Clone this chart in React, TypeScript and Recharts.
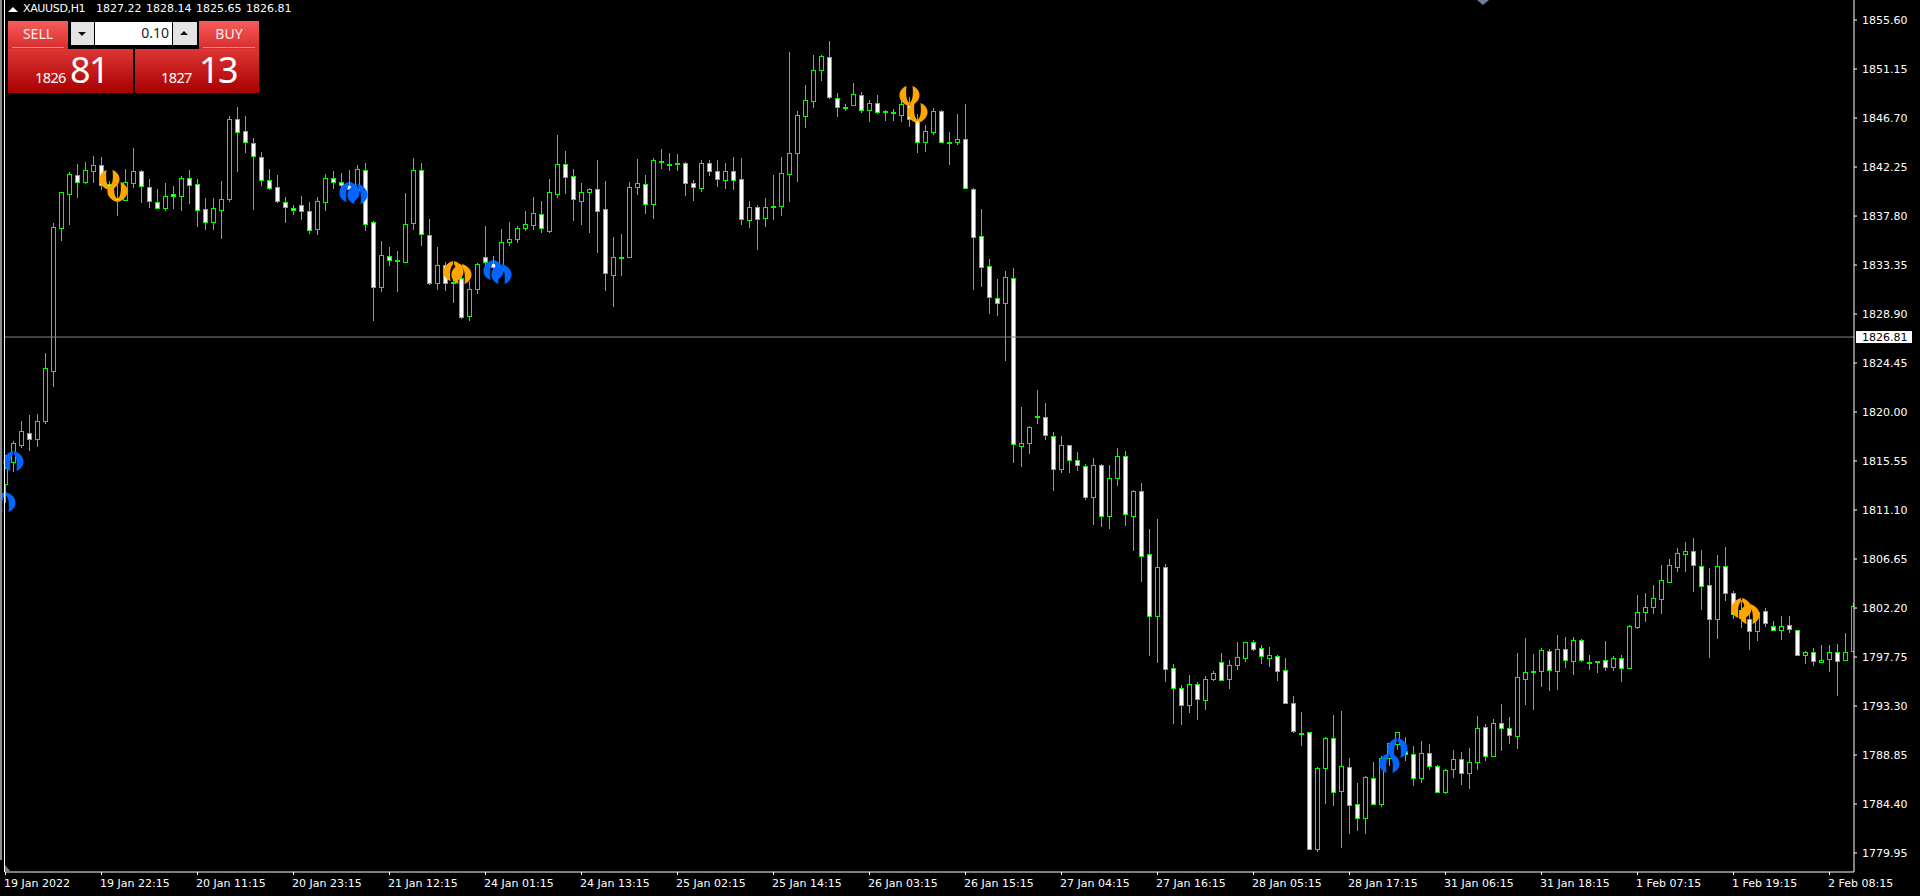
import { Bar, ComposedChart, ReferenceDot, ReferenceLine, XAxis, YAxis } from "recharts";

const opens = [
  1813.46, 1815.46, 1817.0, 1818.09, 1817.55, 1819.18, 1823.72, 1836.72, 1839.81, 1841.53,
  1840.89, 1841.89, 1842.44, 1840.71, 1839.44, 1839.26, 1840.8, 1841.89, 1840.44, 1839.08,
  1838.53, 1839.76, 1839.62, 1841.26, 1840.71, 1838.44, 1837.26, 1838.35, 1839.35, 1846.61,
  1845.52, 1844.43, 1843.16, 1841.07, 1840.44, 1839.08, 1838.53, 1838.8, 1838.26, 1836.62,
  1839.08, 1841.26, 1840.89, 1840.62, 1840.17, 1841.99, 1837.26, 1831.36, 1834.17, 1833.72,
  1833.63, 1837.17, 1841.98, 1836.08, 1831.72, 1833.35, 1831.81, 1832.17, 1828.72, 1831.17,
  1834.08, 1833.54, 1832.9, 1835.44, 1835.71, 1836.72, 1836.99, 1837.99, 1836.44, 1839.8,
  1842.53, 1841.44, 1839.17, 1839.98, 1840.26, 1838.44, 1832.45, 1834.08, 1834.08, 1840.44,
  1840.71, 1838.89, 1842.8, 1842.53, 1842.62, 1842.62, 1840.8, 1840.35, 1842.62, 1841.89,
  1841.07, 1841.89, 1841.17, 1837.44, 1838.62, 1837.62, 1838.62, 1838.71, 1841.62, 1843.53,
  1846.89, 1848.25, 1851.06, 1852.24, 1848.52, 1847.7, 1847.88, 1848.79, 1847.43, 1848.06,
  1847.34, 1847.25, 1846.98, 1847.88, 1846.52, 1844.52, 1845.43, 1847.34, 1844.52, 1844.52,
  1844.8, 1840.26, 1835.99, 1833.26, 1830.35, 1829.9, 1832.17, 1816.91, 1817.19, 1819.64,
  1819.55, 1817.82, 1814.82, 1817.0, 1815.64, 1815.1, 1812.28, 1815.19, 1810.55, 1814.01,
  1816.01, 1810.55, 1812.83, 1807.1, 1801.48, 1805.92, 1796.76, 1794.94, 1793.39, 1795.3,
  1793.85, 1795.75, 1797.3, 1795.75, 1797.03, 1797.66, 1799.11, 1798.57, 1797.66, 1797.85,
  1796.57, 1793.58, 1790.86, 1790.95, 1780.31, 1787.67, 1790.4, 1785.58, 1787.76, 1784.4,
  1783.13, 1786.76, 1784.4, 1788.58, 1789.85, 1789.21, 1788.94, 1786.76, 1789.03, 1787.85,
  1785.49, 1787.58, 1788.49, 1787.21, 1788.22, 1791.4, 1788.76, 1791.76, 1791.31, 1790.58,
  1795.75, 1796.39, 1796.48, 1798.3, 1796.48, 1798.48, 1797.39, 1799.3, 1797.3, 1797.3,
  1797.48, 1796.85, 1797.66, 1796.75, 1800.48, 1801.84, 1802.29, 1803.02, 1804.57, 1805.93,
  1807.11, 1807.38, 1806.02, 1804.29, 1801.2, 1806.02, 1803.56, 1801.29, 1801.2, 1800.11,
  1801.93, 1800.57, 1800.2, 1800.66, 1800.2, 1797.94, 1798.21, 1797.3, 1797.57, 1798.21,
  1797.48, 1798.3,
];

const highs = [
  1816.1, 1817.37, 1819.18, 1819.73, 1819.82, 1825.36, 1837.17, 1839.98, 1841.8, 1842.53,
  1842.71, 1843.25, 1843.16, 1840.98, 1840.62, 1842.08, 1843.98, 1841.98, 1841.17, 1840.26,
  1840.8, 1840.53, 1841.44, 1841.98, 1841.17, 1839.44, 1839.44, 1840.98, 1846.89, 1847.7,
  1846.89, 1844.89, 1843.62, 1842.08, 1841.53, 1839.53, 1838.8, 1839.62, 1839.08, 1839.53,
  1841.62, 1841.89, 1841.71, 1841.98, 1842.44, 1842.62, 1837.35, 1835.54, 1834.99, 1834.63,
  1839.89, 1843.07, 1842.62, 1837.53, 1834.99, 1833.63, 1832.9, 1833.35, 1831.9, 1833.54,
  1836.9, 1834.17, 1836.62, 1837.26, 1836.9, 1838.26, 1839.53, 1839.17, 1841.17, 1845.16,
  1843.71, 1842.07, 1840.8, 1840.35, 1842.89, 1840.98, 1835.9, 1836.17, 1840.89, 1842.98,
  1841.53, 1843.07, 1843.89, 1843.53, 1843.44, 1842.71, 1841.07, 1842.89, 1842.89, 1842.89,
  1842.62, 1843.16, 1843.07, 1839.17, 1838.8, 1839.44, 1841.53, 1843.16, 1852.7, 1847.34,
  1849.7, 1852.43, 1852.43, 1853.7, 1848.97, 1847.98, 1849.88, 1849.06, 1848.34, 1848.79,
  1847.43, 1847.52, 1848.34, 1848.61, 1847.07, 1846.07, 1847.61, 1847.43, 1845.43, 1847.07,
  1847.97, 1840.35, 1838.44, 1833.9, 1832.08, 1832.8, 1833.08, 1820.45, 1818.73, 1822.0,
  1820.82, 1818.18, 1817.82, 1817.0, 1816.37, 1815.28, 1815.82, 1815.28, 1815.19, 1816.73,
  1816.46, 1812.92, 1813.55, 1809.38, 1810.29, 1806.2, 1797.12, 1795.21, 1796.12, 1795.48,
  1796.03, 1796.48, 1798.12, 1797.48, 1799.11, 1799.11, 1799.3, 1798.84, 1798.66, 1797.94,
  1797.66, 1794.21, 1792.76, 1790.95, 1787.76, 1790.49, 1792.49, 1792.85, 1788.58, 1786.31,
  1786.94, 1788.22, 1788.76, 1789.94, 1790.95, 1790.49, 1789.67, 1790.12, 1789.85, 1787.94,
  1787.58, 1789.3, 1789.12, 1789.49, 1792.39, 1791.67, 1792.12, 1793.49, 1792.3, 1798.12,
  1799.48, 1798.03, 1798.57, 1798.48, 1799.75, 1799.57, 1799.57, 1799.39, 1797.94, 1797.39,
  1799.21, 1797.85, 1797.94, 1800.66, 1803.39, 1803.57, 1804.29, 1806.11, 1806.66, 1807.65,
  1808.2, 1808.56, 1807.47, 1805.83, 1807.02, 1807.74, 1803.75, 1802.93, 1801.66, 1802.02,
  1802.2, 1801.02, 1801.48, 1801.48, 1800.2, 1798.3, 1798.57, 1798.84, 1798.84, 1798.93,
  1799.93, 1802.66,
];

const lows = [
  1811.74, 1814.55, 1816.73, 1816.46, 1816.82, 1818.91, 1822.27, 1835.54, 1836.99, 1839.44,
  1840.71, 1840.8, 1840.17, 1839.71, 1837.8, 1839.17, 1840.35, 1839.0, 1838.53, 1838.44,
  1838.26, 1838.44, 1838.26, 1838.89, 1836.81, 1836.53, 1836.53, 1835.71, 1839.08, 1841.8,
  1843.53, 1838.35, 1840.53, 1840.17, 1839.0, 1837.17, 1837.89, 1837.44, 1836.17, 1836.08,
  1838.26, 1840.26, 1839.71, 1839.26, 1839.71, 1836.44, 1828.26, 1830.9, 1833.26, 1830.9,
  1833.54, 1836.53, 1835.08, 1831.54, 1831.08, 1830.99, 1829.9, 1828.45, 1828.26, 1830.72,
  1832.9, 1832.0, 1832.45, 1835.08, 1835.35, 1836.44, 1836.53, 1836.26, 1836.26, 1839.44,
  1839.8, 1837.35, 1836.99, 1836.26, 1834.44, 1830.99, 1829.54, 1832.35, 1834.03, 1839.71,
  1837.99, 1837.53, 1842.07, 1841.89, 1841.89, 1839.62, 1839.17, 1839.98, 1841.44, 1840.44,
  1840.26, 1840.17, 1836.99, 1836.72, 1834.71, 1836.81, 1837.44, 1837.8, 1839.08, 1840.89,
  1845.8, 1847.61, 1850.06, 1848.43, 1846.79, 1847.34, 1847.79, 1847.16, 1846.34, 1847.07,
  1846.43, 1846.43, 1846.34, 1845.89, 1843.53, 1843.62, 1845.16, 1844.43, 1842.44, 1844.25,
  1840.26, 1831.08, 1831.36, 1828.9, 1828.72, 1824.63, 1815.37, 1815.01, 1816.19, 1818.91,
  1817.46, 1812.83, 1814.46, 1814.46, 1814.64, 1812.01, 1809.74, 1809.56, 1809.38, 1813.28,
  1809.65, 1807.38, 1804.56, 1797.85, 1797.21, 1795.5, 1791.67, 1791.58, 1792.67, 1792.03,
  1792.94, 1795.57, 1795.57, 1794.85, 1796.57, 1797.3, 1798.3, 1797.12, 1796.85, 1795.57,
  1793.58, 1790.86, 1789.67, 1780.22, 1780.04, 1784.4, 1784.22, 1780.4, 1781.67, 1781.94,
  1781.67, 1784.31, 1784.13, 1787.85, 1789.3, 1788.31, 1786.03, 1786.31, 1787.49, 1785.4,
  1785.31, 1786.76, 1786.12, 1785.76, 1787.49, 1788.31, 1788.76, 1789.21, 1789.85, 1789.39,
  1793.39, 1792.94, 1795.03, 1794.67, 1794.76, 1796.75, 1796.12, 1797.3, 1796.57, 1796.3,
  1796.48, 1796.48, 1795.48, 1796.75, 1800.3, 1800.93, 1801.66, 1801.66, 1804.48, 1805.47,
  1805.47, 1803.66, 1802.02, 1797.66, 1799.39, 1802.84, 1801.2, 1800.39, 1798.39, 1799.2,
  1800.48, 1800.2, 1799.3, 1799.93, 1797.85, 1797.12, 1796.93, 1797.21, 1796.39, 1794.21,
  1797.48, 1798.21,
];

const closes = [
  1814.92, 1817.19, 1818.27, 1817.55, 1819.18, 1824.0, 1836.81, 1839.98, 1841.62, 1840.89,
  1841.98, 1842.44, 1840.62, 1840.35, 1839.26, 1840.89, 1841.89, 1840.53, 1839.17, 1838.53,
  1839.62, 1839.62, 1841.26, 1840.62, 1838.35, 1837.26, 1838.53, 1839.35, 1846.61, 1845.43,
  1844.52, 1843.25, 1841.07, 1840.35, 1839.17, 1838.62, 1838.35, 1838.26, 1836.53, 1839.17,
  1841.26, 1840.89, 1840.62, 1840.26, 1842.08, 1837.08, 1831.36, 1834.26, 1833.81, 1833.81,
  1837.08, 1841.98, 1836.17, 1831.72, 1833.35, 1831.72, 1831.72, 1828.63, 1831.17, 1833.45,
  1833.63, 1833.17, 1835.44, 1835.71, 1836.72, 1837.08, 1838.08, 1836.72, 1839.98, 1842.53,
  1841.35, 1839.35, 1839.98, 1840.26, 1838.26, 1832.63, 1834.08, 1833.99, 1840.44, 1840.8,
  1838.89, 1842.89, 1842.71, 1842.44, 1842.53, 1840.8, 1840.44, 1842.62, 1841.89, 1841.17,
  1841.89, 1841.07, 1837.53, 1838.62, 1837.53, 1838.62, 1838.71, 1841.71, 1843.53, 1846.98,
  1848.34, 1851.06, 1852.33, 1848.61, 1847.7, 1847.61, 1848.88, 1847.43, 1848.06, 1847.25,
  1847.25, 1847.16, 1847.97, 1846.61, 1844.52, 1845.52, 1847.34, 1844.52, 1844.43, 1844.8,
  1840.35, 1835.9, 1833.17, 1830.44, 1829.9, 1832.26, 1817.09, 1817.19, 1818.64, 1819.55,
  1817.91, 1814.82, 1817.0, 1815.64, 1815.19, 1812.28, 1815.19, 1810.55, 1814.01, 1816.01,
  1810.74, 1812.83, 1806.92, 1801.48, 1805.92, 1796.68, 1794.94, 1793.39, 1795.3, 1793.94,
  1795.75, 1796.3, 1795.66, 1797.03, 1797.75, 1799.11, 1798.48, 1797.85, 1797.94, 1796.48,
  1793.58, 1791.04, 1790.77, 1780.31, 1787.67, 1790.4, 1785.49, 1787.85, 1784.31, 1783.13,
  1786.85, 1784.4, 1788.58, 1789.94, 1790.95, 1788.94, 1786.76, 1789.03, 1787.85, 1785.49,
  1787.49, 1788.49, 1787.21, 1788.22, 1791.31, 1788.76, 1791.76, 1791.31, 1790.67, 1795.93,
  1796.39, 1796.48, 1798.39, 1796.57, 1798.48, 1797.48, 1799.3, 1797.48, 1797.21, 1797.39,
  1796.85, 1797.66, 1796.75, 1800.57, 1801.84, 1802.29, 1803.11, 1804.75, 1806.11, 1807.2,
  1807.38, 1806.11, 1804.2, 1801.2, 1806.02, 1803.56, 1801.66, 1802.02, 1800.11, 1801.84,
  1800.84, 1800.2, 1800.57, 1800.3, 1797.94, 1798.21, 1797.39, 1797.48, 1798.21, 1797.39,
  1798.21, 1802.39,
];

const priceTicks = [
  1855.6, 1851.15, 1846.7, 1842.25, 1837.8, 1833.35, 1828.9, 1824.45, 1820.0, 1815.55, 1811.1,
  1806.65, 1802.2, 1797.75, 1793.3, 1788.85, 1784.4, 1779.95,
];

const timeTickIndexes = [0, 12, 24, 36, 48, 60, 72, 84, 96, 108, 120, 132, 144, 156, 168, 180, 192, 204, 216, 228];
const timeTickLabels = [
  "19 Jan 2022", "19 Jan 22:15", "20 Jan 11:15", "20 Jan 23:15", "21 Jan 12:15", "24 Jan 01:15", "24 Jan 13:15",
  "25 Jan 02:15", "25 Jan 14:15", "26 Jan 03:15", "26 Jan 15:15", "27 Jan 04:15", "27 Jan 16:15", "28 Jan 05:15",
  "28 Jan 17:15", "31 Jan 06:15", "31 Jan 18:15", "1 Feb 07:15", "1 Feb 19:15", "2 Feb 08:15",
];

const lastPrice = 1826.81;

// arrows left on the chart: [candle index, price]
const orangeCups = [[13, 1841.07], [14, 1839.98], [113, 1848.7], [114, 1847.16]];
const orangeDomes = [[56, 1832.81], [57, 1832.54], [217, 1802.2], [218, 1801.66]];
const blueDomes = [[0, 1811.83], [1, 1815.55], [43, 1839.98], [44, 1839.8], [61, 1832.9], [62, 1832.54], [173, 1788.13], [174, 1789.49]];

const data = opens.map((open, i) => ({ index: i, open, high: highs[i], low: lows[i], close: closes[i] }));

const font = "'DejaVu Sans', sans-serif";

// one candle, wick and body are worked out from the high-low rectangle the Bar hands over
const Candle = (props: any) => {
  const { x, y, height, payload } = props;
  const { open, high, low, close } = payload;
  const perUnit = height / (high - low);
  const col = Math.floor(x + 2.5);
  const top = Math.round(y + (high - Math.max(open, close)) * perUnit);
  const bottom = Math.round(y + (high - Math.min(open, close)) * perUnit);
  const bodyH = bottom - top + 1;
  return (
    <g shapeRendering="crispEdges">
      <rect x={col} y={Math.round(y)} width={1} height={Math.max(1, Math.round(height))} fill="#00ff00" />
      <rect x={col - 2} y={top} width={5} height={bodyH} fill="#00ff00" />
      {bodyH > 2 && (
        <rect x={col - 1} y={top + 1} width={3} height={bodyH - 2} fill={close < open ? "#ffffff" : "#000000"} />
      )}
    </g>
  );
};

const blade = "M-3,-10 C-13,-6 -12.5,6 -0.6,10 L-0.6,6.5 C-3.5,4 -3.8,-3 -3,-10 Z";

const Marker = ({ cx, cy, color, flip }: any) => (
  <g transform={`translate(${cx},${cy}) scale(1,${flip ? -1 : 1})`} fill={color}>
    <path d={blade} />
    <path d={blade} transform="scale(-1,1)" />
  </g>
);

const TimeTick = ({ x, y, payload }: any) => (
  <text x={x - 1.5} y={y + 10} fontSize={11} fontFamily={font} fill="#ffffff">
    {timeTickLabels[timeTickIndexes.indexOf(payload.value)]}
  </text>
);

const PriceTag = ({ viewBox }: any) => (
  <g>
    <rect x={1856} y={viewBox.y - 6} width={56} height={12} fill="#ffffff" />
    <text x={1862} y={viewBox.y + 4} fontSize={11} fontFamily={font} fill="#000000">
      {lastPrice.toFixed(2)}
    </text>
  </g>
);

const box = (style: any) => ({ position: "absolute", ...style });

const TradePanel = () => (
  <div style={box({ left: 0, top: 0, width: 300, height: 100, fontFamily: "'Noto Sans', sans-serif", color: "#fff" })}>
    <div style={box({ left: 23, top: 2, fontFamily: font, fontSize: 11, letterSpacing: -0.35, whiteSpace: "nowrap" })}>XAUUSD,H1</div>
    {["1827.22", "1828.14", "1825.65", "1826.81"].map((v, i) => (
      <div key={v} style={box({ left: 96 + i * 50, top: 2, fontFamily: font, fontSize: 11 })}>{v}</div>
    ))}
    <div style={box({ left: 8, top: 7, width: 0, height: 0, borderLeft: "5px solid transparent", borderRight: "5px solid transparent", borderBottom: "5px solid #fff" })} />

    <div style={box({ left: 8, top: 21, width: 60, height: 28, background: "linear-gradient(#f65c5c,#d92c2c)" })} />
    <div style={box({ left: 12, top: 47, width: 52, height: 1, background: "#f08a8a" })} />
    <div style={box({ left: 8, top: 24, width: 60, textAlign: "center", fontSize: 14, opacity: 0.92 })}>SELL</div>
    <div style={box({ left: 199, top: 21, width: 60, height: 28, background: "linear-gradient(#f65c5c,#d92c2c)" })} />
    <div style={box({ left: 203, top: 47, width: 52, height: 1, background: "#f08a8a" })} />
    <div style={box({ left: 199, top: 24, width: 60, textAlign: "center", fontSize: 14, opacity: 0.92 })}>BUY</div>

    <div style={box({ left: 71, top: 22, width: 23, height: 23, background: "#e4e4e4" })} />
    <div style={box({ left: 78, top: 32, width: 0, height: 0, borderLeft: "4px solid transparent", borderRight: "4px solid transparent", borderTop: "4px solid #111" })} />
    <div style={box({ left: 95, top: 22, width: 77, height: 23, background: "#fff" })} />
    <div style={box({ left: 95, top: 23, width: 74, textAlign: "right", fontSize: 14, color: "#222" })}>0.10</div>
    <div style={box({ left: 173, top: 22, width: 24, height: 23, background: "#e4e4e4" })} />
    <div style={box({ left: 180, top: 31, width: 0, height: 0, borderLeft: "4px solid transparent", borderRight: "4px solid transparent", borderBottom: "4px solid #111" })} />

    <div style={box({ left: 8, top: 49, width: 125, height: 44, background: "linear-gradient(#de3535,#a80000)" })} />
    <div style={box({ left: 135, top: 49, width: 124, height: 44, background: "linear-gradient(#de3535,#a80000)" })} />
    <div style={box({ left: 35, top: 67, fontSize: 14.5, letterSpacing: -0.6 })}>1826</div>
    <div style={box({ left: 70, top: 45, fontSize: 36, letterSpacing: -1.5 })}>81</div>
    <div style={box({ left: 161, top: 67, fontSize: 14.5, letterSpacing: -0.6 })}>1827</div>
    <div style={box({ left: 199, top: 45, fontSize: 36, letterSpacing: -1.5 })}>13</div>
  </div>
);

export default function App() {
  return (
    <div style={box({ left: 0, top: 0, width: 1920, height: 896, background: "#000", overflow: "hidden" })}>
      <ComposedChart width={1920} height={896} data={data} margin={{ top: 0, right: 0, bottom: 0, left: 5 }}>
        <XAxis
          dataKey="index"
          type="number"
          domain={[-0.0625, 231.0625]}
          allowDataOverflow
          ticks={timeTickIndexes}
          interval={0}
          height={24}
          tickSize={3}
          stroke="#ffffff"
          tick={<TimeTick />}
        />
        <YAxis
          orientation="right"
          type="number"
          domain={[1778.225, 1857.42]}
          allowDataOverflow
          ticks={priceTicks}
          interval={0}
          width={66}
          tickSize={3}
          tickMargin={5}
          stroke="#ffffff"
          tickFormatter={(v: number) => v.toFixed(2)}
          tick={{ fill: "#ffffff", fontSize: 11, fontFamily: font }}
        />
        <ReferenceLine y={lastPrice} stroke="#778899" strokeWidth={1} label={<PriceTag />} />
        <Bar
          dataKey={(d: any) => [d.low, d.high]}
          barSize={5}
          shape={<Candle />}
          isAnimationActive={false}
        />
        {orangeCups.map(([i, p]) => (
          <ReferenceDot key={`oc${i}`} x={i} y={p} ifOverflow="hidden" shape={<Marker color="#ffa500" />} />
        ))}
        {orangeDomes.map(([i, p]) => (
          <ReferenceDot key={`od${i}`} x={i} y={p} ifOverflow="hidden" shape={<Marker color="#ffa500" flip />} />
        ))}
        {blueDomes.map(([i, p]) => (
          <ReferenceDot key={`bd${i}`} x={i} y={p} ifOverflow="hidden" shape={<Marker color="#0066ff" flip />} />
        ))}
      </ComposedChart>
      <div style={box({ left: 0, top: 0, width: 2, height: 860, background: "#8c8c8c" })} />
      <div style={box({ left: 4, top: 0, width: 1, height: 872, background: "#ffffff" })} />
      <svg style={box({ left: 0, top: 0 })} width={1920} height={896} pointerEvents="none">
        <polygon points="1477,0 1489,0 1483,5" fill="#708090" />
        <polygon points="5,865 5,872 11,872" fill="#708090" />
      </svg>
      <TradePanel />
    </div>
  );
}
